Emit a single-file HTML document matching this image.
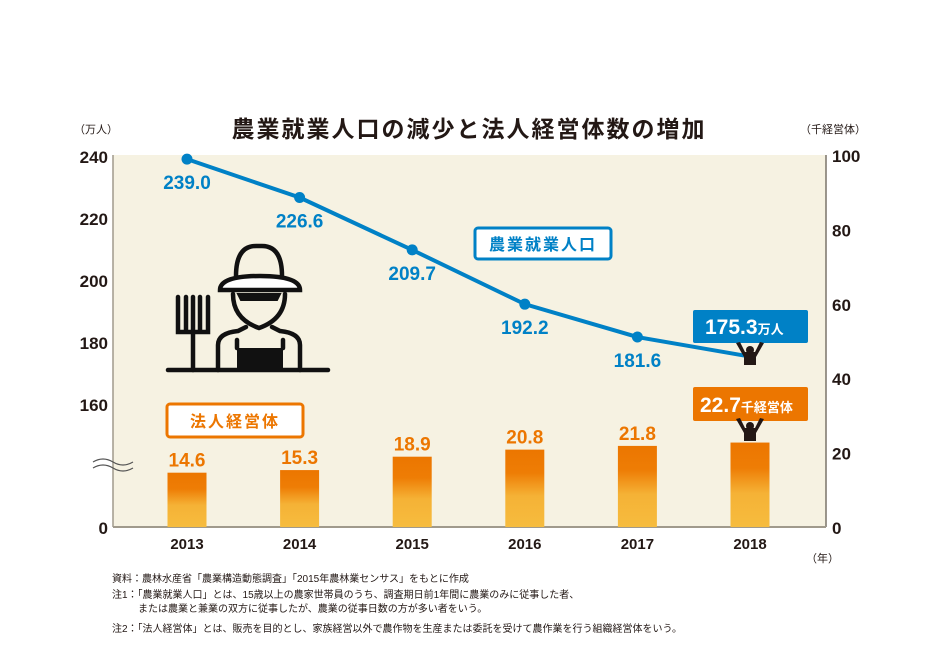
<!DOCTYPE html>
<html><head><meta charset="utf-8"><style>
body{margin:0;background:#fff;}
svg text{font-family:"Liberation Sans","Noto Sans CJK JP",sans-serif;}
</style></head><body>
<svg id="c" width="938" height="662" viewBox="0 0 938 662">
<defs><linearGradient id="bg" x1="0" y1="0" x2="0" y2="1">
<stop offset="0" stop-color="#ec7600"/><stop offset="0.3" stop-color="#ee7d05"/><stop offset="0.6" stop-color="#f5b236"/><stop offset="1" stop-color="#f6bc3e"/></linearGradient></defs>
<rect x="113" y="155" width="713" height="372" fill="#f6f2e2"/>
<text x="469" y="137" text-anchor="middle" font-size="23" font-weight="bold" fill="#231815" letter-spacing="2">農業就業人口の減少と法人経営体数の増加</text>
<text x="74" y="133" font-size="11" fill="#231815">（万人）</text>
<text x="800" y="133" font-size="11" fill="#231815">（千経営体）</text>
<text x="806" y="562" font-size="11" fill="#231815">（年）</text>
<line x1="113" y1="155" x2="113" y2="527" stroke="#a09a8c" stroke-width="1.5"/>
<line x1="826" y1="155" x2="826" y2="527" stroke="#7a746a" stroke-width="1.5"/>
<line x1="113" y1="527" x2="826" y2="527" stroke="#a09a8c" stroke-width="2"/>
<path d="M93,462 q10,-6 20,0 t20,0 M93,468 q10,-6 20,0 t20,0" fill="none" stroke="#555" stroke-width="1.2"/>
<g id="farmer" fill="none" stroke="#111" stroke-width="4.5" stroke-linecap="round">
<line x1="168" y1="370" x2="328" y2="370"/>
<path d="M178,297 v35 h30 v-35 M186,297 v35 M193,297 v35 M200,297 v35 M193,332 v38"/>
<path d="M236,276 q0,-30 20,-30 h6 q20,0 20,30"/>
<path d="M220,290 q0,-14 40,-14 q40,0 40,14 z" fill="#fff"/>
<path d="M233,294 q0,25 26,34 q26,-9 26,-34"/>
<path d="M218,370 v-25 q0,-12 20,-14 l8,-4 M300,370 v-25 q0,-12 -20,-14 l-8,-4"/>
<rect x="237" y="348" width="46" height="22" fill="#111" stroke="none"/>
<line x1="237" y1="348" x2="237" y2="340"/><line x1="283" y1="348" x2="283" y2="340"/>
<path d="M238,294 h42 l-3,6 h-36 z" fill="#111" stroke-width="2"/>
</g>
<g id="axes"></g><g id="bars"></g><g id="line"></g>
<rect x="475" y="228" width="136" height="31" rx="3" fill="#fff" stroke="#0081c6" stroke-width="3"/>
<text x="543" y="250" text-anchor="middle" font-size="16" font-weight="bold" fill="#0081c6" letter-spacing="2">農業就業人口</text>
<rect x="167" y="404" width="136" height="33" rx="3" fill="#fff" stroke="#ec7600" stroke-width="3"/>
<text x="235" y="427" text-anchor="middle" font-size="16" font-weight="bold" fill="#ec7600" letter-spacing="2">法人経営体</text>
<rect x="693" y="310" width="115" height="33" rx="2" fill="#0081c6"/>
<text x="705" y="334" font-size="21" font-weight="bold" fill="#fff">175.3<tspan font-size="13">万人</tspan></text>
<rect x="693" y="387" width="115" height="34" rx="2" fill="#ec7600"/>
<text x="700" y="412" font-size="21" font-weight="bold" fill="#fff">22.7<tspan font-size="13">千経営体</tspan></text>
<g fill="#231815">
<circle cx="750" cy="350" r="4"/><path d="M736,343 l4,-1 l5,10 h10 l5,-10 l4,1 l-8,14 v8 h-12 v-8 z"/>
<circle cx="750" cy="426" r="4"/><path d="M736,419 l4,-1 l5,10 h10 l5,-10 l4,1 l-8,14 v8 h-12 v-8 z"/>
</g>
<g font-size="10" fill="#231815">
<text x="112" y="582">資料：農林水産省「農業構造動態調査」「2015年農林業センサス」をもとに作成</text>
<text x="112" y="598">注1：「農業就業人口」とは、15歳以上の農家世帯員のうち、調査期日前1年間に農業のみに従事した者、</text>
<text x="138" y="612">または農業と兼業の双方に従事したが、農業の従事日数の方が多い者をいう。</text>
<text x="112" y="632">注2：「法人経営体」とは、販売を目的とし、家族経営以外で農作物を生産または委託を受けて農作業を行う組織経営体をいう。</text>
</g>
</svg>
<script>
const years=['2013','2014','2015','2016','2017','2018'];
const workers=[239.0,226.6,209.7,192.2,181.6,175.3];
const corps=[14.6,15.3,18.9,20.8,21.8,22.7];
const workerLabels=['239.0','226.6','209.7','192.2','181.6',''];
const corpLabels=['14.6','15.3','18.9','20.8','21.8',''];
const leftTicks=[240,220,200,180,160];
const rightTicks=[0,20,40,60,80,100];
const NS='http://www.w3.org/2000/svg';
function mk(t,a,p,txt){const e=document.createElementNS(NS,t);for(const k in a)e.setAttribute(k,a[k]);if(txt!==undefined)e.textContent=txt;p.appendChild(e);return e;}
const xS=i=>187+i*112.6;
const yL=v=>156+(240-v)*3.1;
const yR=v=>527-v*3.72;
const ax=document.getElementById('axes'),bg=document.getElementById('bars'),lg=document.getElementById('line');
leftTicks.forEach(v=>{const t=mk('text',{x:108,y:yL(v)+7,'text-anchor':'end','font-size':17,'font-weight':'bold',fill:'#231815'},ax,v);

});
{const t=mk('text',{x:108,y:534,'text-anchor':'end','font-size':17,'font-weight':'bold',fill:'#231815'},ax,'0');

}
rightTicks.forEach(v=>{const t=mk('text',{x:832,y:yR(v)+7,'font-size':17,'font-weight':'bold',fill:'#231815'},ax,v);

});
years.forEach((y,i)=>{const t=mk('text',{x:xS(i),y:549,'text-anchor':'middle','font-size':15,'font-weight':'bold',fill:'#231815'},ax,y);

});
corps.forEach((v,i)=>{const r=mk('rect',{x:xS(i)-19.5,y:yR(v),width:39,height:527-yR(v),fill:'url(#bg)'},bg);


if(corpLabels[i]){const t=mk('text',{x:xS(i),y:yR(v)-6,'text-anchor':'middle','font-size':19,'font-weight':'bold',fill:'#ec7600'},bg,corpLabels[i]);

}});
const pl=mk('polyline',{points:workers.map((v,i)=>xS(i)+','+yL(v)).join(' '),fill:'none',stroke:'#0081c6','stroke-width':4},lg);


workers.forEach((v,i)=>{const c=mk('circle',{cx:xS(i),cy:yL(v),r:5.5,fill:'#0081c6'},lg);


if(workerLabels[i]){const t=mk('text',{x:xS(i),y:yL(v)+30,'text-anchor':'middle','font-size':19,'font-weight':'bold',fill:'#0081c6'},lg,workerLabels[i]);

}});
</script>
</body></html>
